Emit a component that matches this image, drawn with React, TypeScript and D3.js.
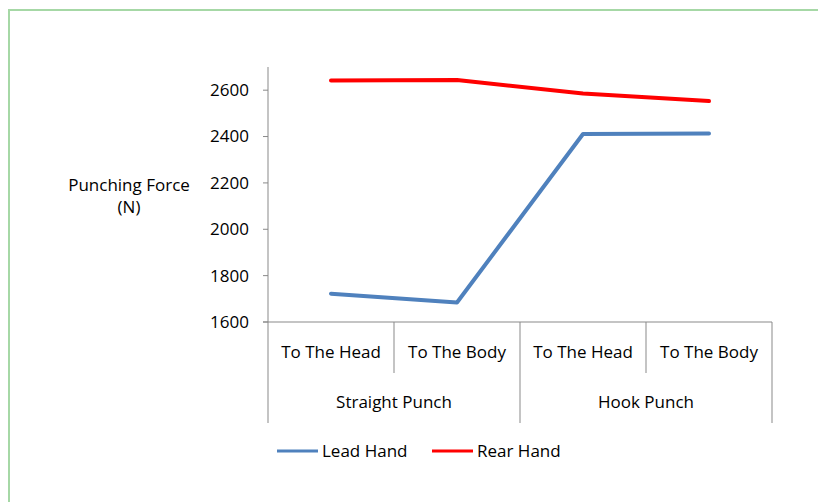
import React from "react";
import * as d3 from "d3";

const subCategories = ["To The Head", "To The Body", "To The Head", "To The Body"];
const groups = ["Straight Punch", "Hook Punch"];
const leadHand = [1722, 1684, 2411, 2413];
const rearHand = [2642, 2644, 2586, 2553];
const yTicks = [1600, 1800, 2000, 2200, 2400, 2600];
const seriesNames = ["Lead Hand", "Rear Hand"];
const seriesColors = ["#4F81BD", "#FF0000"];

export default function App() {
  const W = 818, H = 502;
  const left = 268, right = 772, top = 67, bottom = 322;
  const font = "'Open Sans', 'Noto Sans', sans-serif";
  const fs = 17;
  const y = d3.scaleLinear().domain([1600, 2700]).range([bottom, top]);
  const x = d3.scaleBand().domain(d3.range(subCategories.length).map(String)).range([left, right]);
  const gx = d3.scaleBand().domain(groups).range([left, right]);
  const line = d3.line<number>().x((_, i) => (x(String(i)) as number) + x.bandwidth() / 2).y((d) => y(d));
  const axisColor = "#898989";
  return (
    <div style={{ position: "absolute", left: 0, top: 0 }}>
      <svg width={W} height={H} style={{ display: "block" }} fontFamily={font}>
        <rect x={0} y={0} width={W} height={H} fill="#fff" />
        <rect x={9} y={10} width={900} height={700} fill="none" stroke="#A6D8A6" strokeWidth={2} />
        {/* y axis */}
        <line x1={left} x2={left} y1={top} y2={bottom} stroke={axisColor} strokeWidth={1} />
        {yTicks.map((t) => (
          <g key={t}>
            <line x1={left - 5} x2={left} y1={y(t)} y2={y(t)} stroke={axisColor} />
            <text x={left - 19} y={y(t)} dy="0.35em" textAnchor="end" fontSize={fs} fill="#000">{t}</text>
          </g>
        ))}
        <text x={129} y={185} dy="0.35em" textAnchor="middle" fontSize={fs}>Punching Force</text>
        <text x={129} y={207} dy="0.35em" textAnchor="middle" fontSize={fs}>(N)</text>
        {/* x axis */}
        <line x1={left - 5} x2={right} y1={bottom} y2={bottom} stroke={axisColor} />
        {subCategories.map((c, i) => {
          const x0 = x(String(i)) as number;
          return (
            <text key={i} x={x0 + x.bandwidth() / 2} y={352} dy="0.35em" textAnchor="middle" fontSize={fs}>{c}</text>
          );
        })}
        {d3.range(subCategories.length + 1).map((i) => {
          const xx = i < subCategories.length ? (x(String(i)) as number) : right;
          const long = i % 2 === 0;
          return <line key={"v" + i} x1={xx} x2={xx} y1={bottom} y2={long ? 423 : 373} stroke={axisColor} />;
        })}
        {groups.map((g) => (
          <text key={g} x={(gx(g) as number) + gx.bandwidth() / 2} y={402} dy="0.35em" textAnchor="middle" fontSize={fs}>{g}</text>
        ))}
        {/* lines */}
        {[leadHand, rearHand].map((s, k) => (
          <path key={k} d={line(s) as string} fill="none" stroke={seriesColors[k]} strokeWidth={4} strokeLinecap="round" strokeLinejoin="round" />
        ))}
        {/* legend */}
        {seriesNames.map((n, k) => {
          const lx = k === 0 ? 277 : 432;
          return (
            <g key={n}>
              <line x1={lx} x2={lx + 41} y1={451} y2={451} stroke={seriesColors[k]} strokeWidth={3} />
              <text x={lx + 45} y={451} dy="0.35em" fontSize={fs}>{n}</text>
            </g>
          );
        })}
      </svg>
    </div>
  );
}
